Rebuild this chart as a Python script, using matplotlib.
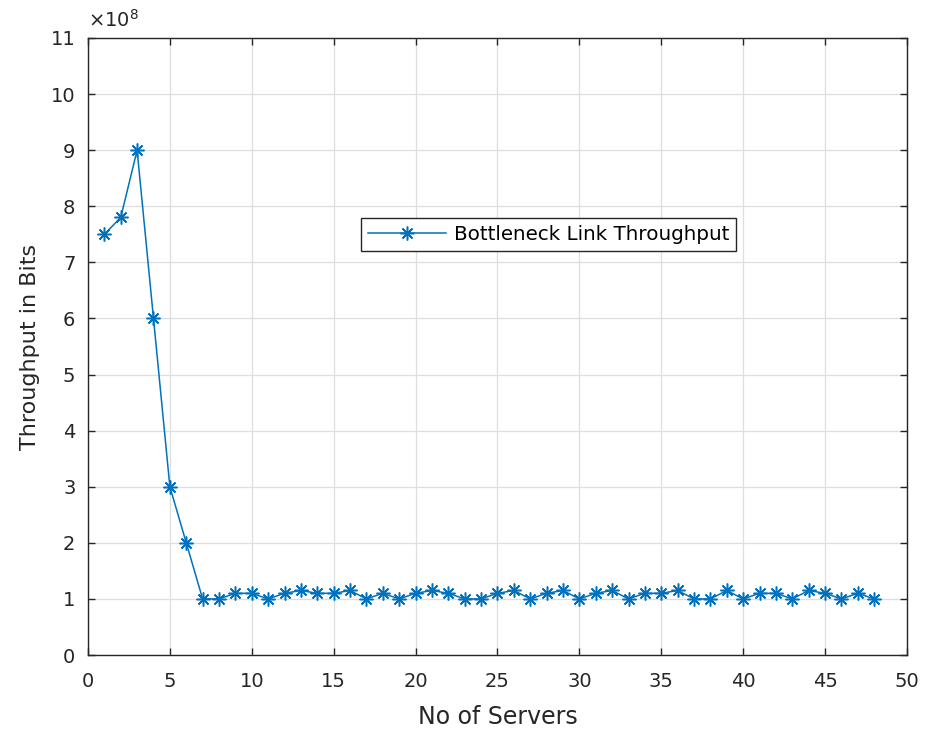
import numpy as np
import matplotlib
matplotlib.use('Agg')
import matplotlib.pyplot as plt

plt.rcParams['font.family'] = ['DejaVu Sans']

#-------- data (throughput in units of 1e8 bits) --------#
servers = np.arange(1, 49)
throughput = [7.5, 7.8, 9.0, 6.0, 3.0, 2.0, 1.0, 1.0, 1.1, 1.1,
              1.0, 1.1, 1.15, 1.1, 1.1, 1.15, 1.0, 1.1, 1.0, 1.1,
              1.15, 1.1, 1.0, 1.0, 1.1, 1.15, 1.0, 1.1, 1.15, 1.0,
              1.1, 1.15, 1.0, 1.1, 1.1, 1.15, 1.0, 1.0, 1.15, 1.0,
              1.1, 1.1, 1.0, 1.15, 1.1, 1.0, 1.1, 1.0]
throughput = np.array(throughput) * 1e8

blue = '#0072BD'
txt = '#262626'
asterisk = (8, 2, 0)  # matlab style '*' marker

fig = plt.figure(figsize=(9.25, 7.29), dpi=100)
ax = fig.add_axes([0.0951, 0.1015, 0.8854, 0.8464])

ax.plot(servers, throughput, color=blue, lw=1.1, marker=asterisk, ms=10,
        mew=1.1, label='Bottleneck Link Throughput')

ax.set_xlim(0, 50)
ax.set_ylim(0, 11e8)
ax.set_xticks(np.arange(0, 51, 5))
ax.set_yticks(np.arange(0, 12) * 1e8)
ax.set_yticklabels([str(i) for i in range(12)])
ax.text(0.0, 1.012, r'$\times 10^{8}$', transform=ax.transAxes,
        fontsize=14, color=txt, ha='left', va='bottom')

ax.grid(True, color='#dedede', lw=0.9)
ax.set_axisbelow(True)
ax.tick_params(direction='in', top=True, right=True, length=5, width=1.0,
               labelsize=14, colors=txt)
ax.tick_params(axis='x', pad=12)
ax.tick_params(axis='y', pad=9)
for sp in ax.spines.values():
    sp.set_color(txt)
    sp.set_linewidth(1.0)

ax.set_xlabel('No of Servers', fontsize=17, color=txt, labelpad=10)
ax.set_ylabel('Throughput in Bits', fontsize=16, color=txt, labelpad=8)

leg = ax.legend(loc='center', bbox_to_anchor=(0.5623, 0.681), fontsize=14.3,
                fancybox=False, edgecolor=txt, framealpha=1,
                handlelength=3.9, handletextpad=0.4, borderpad=0.35,
                borderaxespad=0)
leg.get_frame().set_linewidth(1.0)

plt.savefig('out.png', dpi=100)
